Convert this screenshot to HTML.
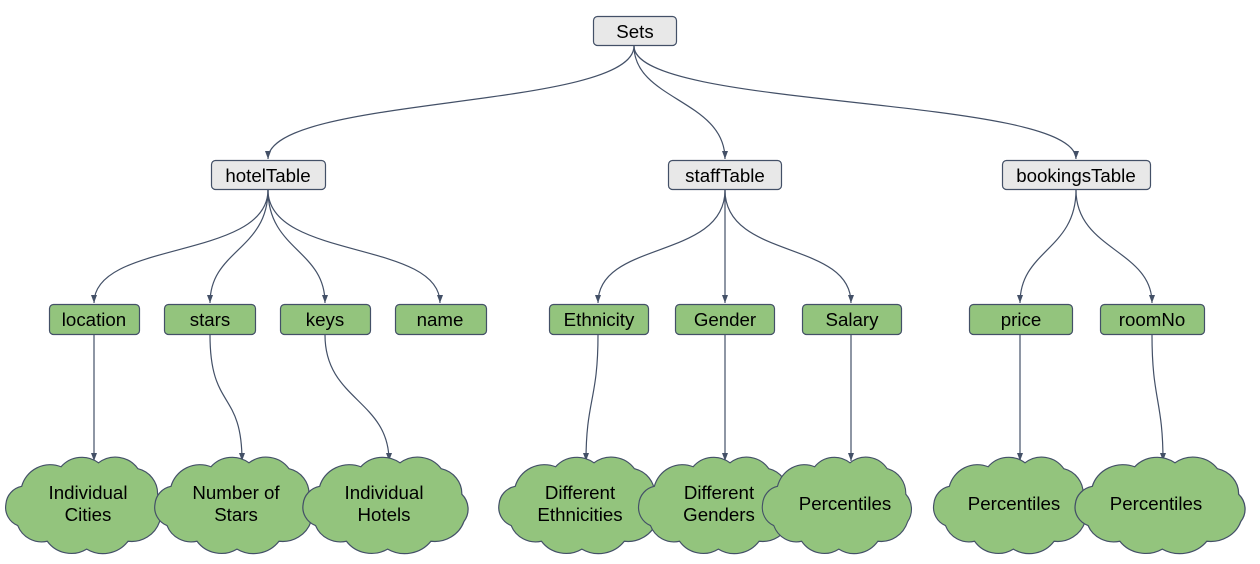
<!DOCTYPE html>
<html><head><meta charset="utf-8"><style>
html,body{margin:0;padding:0;background:#fff;}
svg{display:block;}
text{font-family:"Liberation Sans",Arial,sans-serif;font-size:18.7px;fill:#000;text-anchor:middle;}
</style></head><body>
<svg width="1260" height="564" viewBox="0 0 1260 564" xmlns="http://www.w3.org/2000/svg">
<defs>
<marker id="m" markerWidth="8" markerHeight="8" refX="8" refY="4" orient="auto" markerUnits="userSpaceOnUse">
<path d="M0,1 L8,4 L0,7 Z" fill="#435067"/>
</marker>
<path id="cl" d="M22,32 A30 30 0 0 1 62,12 A28 28 0 0 1 100,8 A28 28 0 0 1 140,14 A26 26 0 0 1 160,40 A22 22 0 0 1 162,68 A30 30 0 0 1 130,88 A32 32 0 0 1 88,96 A30 30 0 0 1 48,88 A26 26 0 0 1 18,72 A20 20 0 0 1 6,50 A20 20 0 0 1 22,32 Z"/>
</defs>
<g fill="none" stroke="#435067" stroke-width="1.2" marker-end="url(#m)">
<path d="M634,46 C634,110 268,95 268,159"/>
<path d="M634,46 C634,100 725,100 725,159"/>
<path d="M634,46 C634,110 1076,95 1076,159"/>
<path d="M268,190 C268,260 94,240 94,303"/>
<path d="M268,190 C268,250 210,250 210,303"/>
<path d="M268,190 C268,250 325,250 325,303"/>
<path d="M268,190 C268,260 440,240 440,303"/>
<path d="M725,190 C725,260 598,240 598,303"/>
<path d="M725,190 L725,303"/>
<path d="M725,190 C725,260 851,240 851,303"/>
<path d="M1076,190 C1076,250 1020,250 1020,303"/>
<path d="M1076,190 C1076,250 1152,250 1152,303"/>
<path d="M94,335 L94,461"/>
<path d="M210,335 C210,410 242,390 242,461"/>
<path d="M325,335 C325,400 389,400 389,461"/>
<path d="M598,335 C598,400 586,400 586,461"/>
<path d="M725,335 L725,461"/>
<path d="M851,335 L851,461"/>
<path d="M1020,335 L1020,461"/>
<path d="M1152,335 C1152,400 1163,400 1163,461"/>
</g>
<g fill="#e8e8e8" stroke="#435067" stroke-width="1.2">
<rect x="593.5" y="16.5" width="83" height="29" rx="4"/>
<rect x="211.5" y="160.5" width="114" height="29" rx="4"/>
<rect x="668.5" y="160.5" width="113" height="29" rx="4"/>
<rect x="1002.5" y="160.5" width="148" height="29" rx="4"/>
</g>
<g fill="#93c47d" stroke="#435067" stroke-width="1.2">
<rect x="49.5" y="304.5" width="90" height="30" rx="4"/>
<rect x="164.5" y="304.5" width="91" height="30" rx="4"/>
<rect x="280.5" y="304.5" width="90" height="30" rx="4"/>
<rect x="395.5" y="304.5" width="91" height="30" rx="4"/>
<rect x="549.5" y="304.5" width="99" height="30" rx="4"/>
<rect x="675.5" y="304.5" width="99" height="30" rx="4"/>
<rect x="802.5" y="304.5" width="99" height="30" rx="4"/>
<rect x="969.5" y="304.5" width="103" height="30" rx="4"/>
<rect x="1100.5" y="304.5" width="104" height="30" rx="4"/>
</g>
<g fill="#93c47d" stroke="#435067" stroke-width="1.2">
<use href="#cl" transform="translate(0,455) scale(0.985,0.98)"/>
<use href="#cl" transform="translate(149,455) scale(1.0,0.98)"/>
<use href="#cl" transform="translate(297,455) scale(1.03,0.98)"/>
<use href="#cl" transform="translate(493,455) scale(1.01,0.98)"/>
<use href="#cl" transform="translate(633,455) scale(0.97,0.98)"/>
<use href="#cl" transform="translate(757,455) scale(0.93,0.98)"/>
<use href="#cl" transform="translate(928,455) scale(0.97,0.98)"/>
<use href="#cl" transform="translate(1069,455) scale(1.06,0.98)"/>
</g>
<text x="635" y="38">Sets</text>
<text x="268" y="182">hotelTable</text>
<text x="725" y="182">staffTable</text>
<text x="1076" y="182">bookingsTable</text>
<text x="94" y="326">location</text>
<text x="210" y="326">stars</text>
<text x="325" y="326">keys</text>
<text x="440" y="326">name</text>
<text x="599" y="326">Ethnicity</text>
<text x="725" y="326">Gender</text>
<text x="852" y="326">Salary</text>
<text x="1021" y="326">price</text>
<text x="1152" y="326">roomNo</text>
<text x="88" y="499">Individual</text><text x="88" y="521">Cities</text>
<text x="236" y="499">Number of</text><text x="236" y="521">Stars</text>
<text x="384" y="499">Individual</text><text x="384" y="521">Hotels</text>
<text x="580" y="499">Different</text><text x="580" y="521">Ethnicities</text>
<text x="719" y="499">Different</text><text x="719" y="521">Genders</text>
<text x="845" y="510">Percentiles</text>
<text x="1014" y="510">Percentiles</text>
<text x="1156" y="510">Percentiles</text>
</svg>
</body></html>
